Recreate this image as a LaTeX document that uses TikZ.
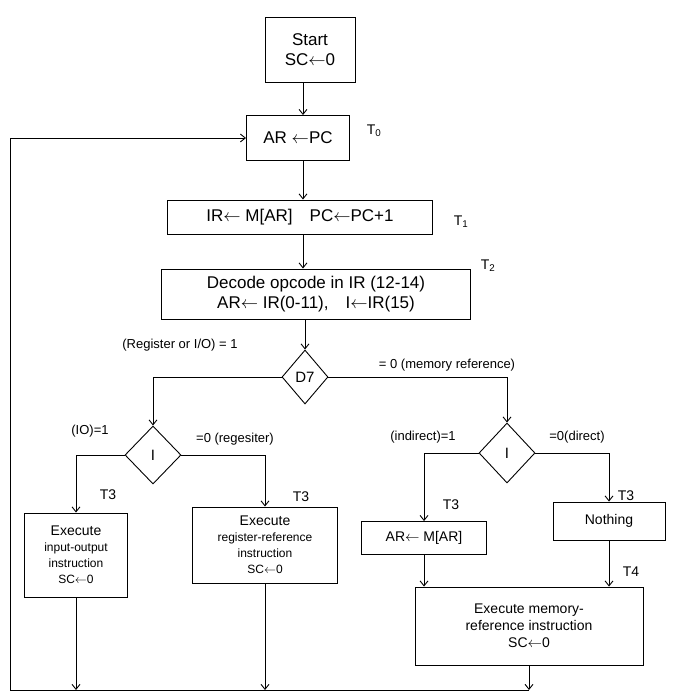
\documentclass[tikz,border=0pt]{standalone}
\usepackage{fontspec}
\setmainfont{Liberation Sans}
\usetikzlibrary{shapes.geometric,arrows.meta}
\newcommand{\la}{$\leftarrow$}
\begin{document}
\begin{tikzpicture}[x=1pt,y=-1pt,
  flow/.style={draw, line width=0.9pt, inner sep=2pt, align=center, font=\fontsize{17}{20}\selectfont},
  small/.style={font=\fontsize{12}{16}\selectfont},
  decision/.style={draw, diamond, line width=0.9pt, inner sep=0pt, font=\fontsize{15}{17}\selectfont},
  lbl/.style={font=\fontsize{13}{15}\selectfont, inner sep=1pt},
  tlbl/.style={font=\fontsize{14}{16}\selectfont, inner sep=1pt},
  conn/.style={line width=0.9pt},
  arr/.style={conn, -{Straight Barb[length=5pt,width=8pt]}},
]
\useasboundingbox (0,0) rectangle (677,695);

% process boxes
\node[flow, minimum width=90pt, minimum height=65pt] (start) at (310,50) {Start\\SC\la 0};
\node[flow, minimum width=103pt, minimum height=45pt] (arpc) at (298,138) {AR \la PC};
\node[flow, minimum width=265pt, minimum height=34pt] (ir) at (300,217) {IR\la\ M[AR]\quad PC\la PC+1};
\node[flow, minimum width=309pt, minimum height=50pt] (decode) at (316,294)
  {Decode opcode in IR (12-14)\\AR\la\ IR(0-11),\quad I\la IR(15)};

% decisions
\node[decision, minimum width=46pt, minimum height=54pt] (d7) at (305,377) {D7};
\node[decision, minimum width=56pt, minimum height=58pt] (i1) at (153,455) {I};
\node[decision, minimum width=56pt, minimum height=60pt] (i2) at (507,453) {I};

% lower boxes
\node[flow, small, minimum width=103pt, minimum height=84pt] (io) at (76,555)
  {{\fontsize{14}{16}\selectfont Execute}\\input-output\\instruction\\SC\la 0};
\node[flow, small, minimum width=145pt, minimum height=76pt] (reg) at (265,545)
  {{\fontsize{14}{16}\selectfont Execute}\\register-reference\\instruction\\SC\la 0};
\node[flow, font=\fontsize{14}{16}\selectfont, minimum width=125pt, minimum height=33pt] (armar) at (424,538) {AR\la\ M[AR]};
\node[flow, font=\fontsize{14}{16}\selectfont, minimum width=112pt, minimum height=38pt] (nothing) at (609,521) {Nothing};
\node[flow, font=\fontsize{14}{17}\selectfont, minimum width=228pt, minimum height=78pt] (mem) at (529,626)
  {Execute memory-\\reference instruction\\SC\la 0};

% helper coordinates
\coordinate (col) at (303,0);
\coordinate (bl) at (10,690);
\coordinate (br) at (529,690);

% main spine
\draw[arr] (start.south -| col) -- (arpc.north -| col);
\draw[arr] (arpc.south -| col) -- (ir.north -| col);
\draw[arr] (ir.south -| col) -- (decode.north -| col);
\draw[arr] (decode.south -| d7.north) -- (d7.north);

% branches
\draw[arr] (d7.west) -| (i1.north);
\draw[arr] (d7.east) -| (i2.north);
\draw[arr] (i1.west) -| (io.north);
\draw[arr] (i1.east) -| (reg.north);
\draw[arr] (i2.west) -| (armar.north);
\draw[arr] (i2.east) -| (nothing.north);
\draw[arr] (armar.south) -- (armar.south |- mem.north);
\draw[arr] (nothing.south) -- (nothing.south |- mem.north);

% returns
\draw[arr] (io.south) -- (io.south |- bl);
\draw[arr] (reg.south) -- (reg.south |- bl);
\draw[arr] (mem.south) -- (br);
\draw[arr] (br) -- (bl) -- (bl |- arpc.west) -- (arpc.west);

% labels
\node[tlbl] (t0) at (374,131) {T\textsubscript{0}};
\node[tlbl] (t1) at (461,222) {T\textsubscript{1}};
\node[tlbl] (t2) at (488,266) {T\textsubscript{2}};
\node[tlbl] (t3a) at (108,495) {T3};
\node[tlbl] (t3b) at (301,497) {T3};
\node[tlbl] (t3c) at (451,505) {T3};
\node[tlbl] (t3d) at (626,496) {T3};
\node[tlbl] (t4) at (631,572) {T4};

\node[lbl] (l1) at (180,345) {(Register or I/O) = 1};
\node[lbl] (l2) at (447,365) {= 0 (memory reference)};
\node[lbl] (l3) at (90,431) {(IO)=1};
\node[lbl] (l4) at (235,439) {=0 (regesiter)};
\node[lbl] (l5) at (423,437) {(indirect)=1};
\node[lbl] (l6) at (577,437) {=0(direct)};
\end{tikzpicture}
\end{document}
